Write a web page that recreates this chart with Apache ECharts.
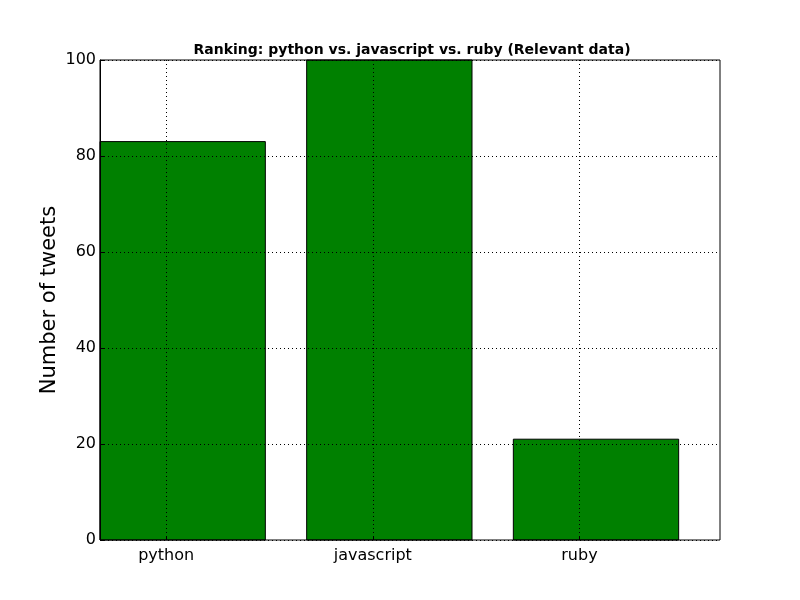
<!DOCTYPE html>
<html>
<head>
<meta charset="utf-8">
<script src="https://cdn.jsdelivr.net/npm/echarts@6/dist/echarts.min.js"></script>
<style>html,body{margin:0;padding:0;background:#fff;}#c{width:800px;height:600px;}</style>
</head>
<body>
<div id="c"></div>
<script>
var categories = ['python', 'javascript', 'ruby'];
var values = [83, 100, 21];
var yTicks = [0, 20, 40, 60, 80, 100];

var BAR_W = 0.8, TICK_OFF = 0.32, XMAX = 3;
var G = {left: 100, right: 80, top: 60, bottom: 60};
var plotW = 800 - G.left - G.right;
var unit = plotW / XMAX;
var font = 'DejaVu Sans';

var chart = echarts.init(document.getElementById('c'), null, {renderer: 'canvas'});
chart.setOption({
  animation: false,
  backgroundColor: '#fff',
  title: {
    text: 'Ranking: python vs. javascript vs. ruby (Relevant data)',
    left: G.left + plotW / 2 - 3, textAlign: 'center', top: 38,
    textStyle: {fontFamily: font, fontSize: 14, fontWeight: 'bold', color: '#000'}
  },
  grid: [
    {left: G.left, right: G.right, top: G.top, bottom: G.bottom, show: true, borderColor: '#000', borderWidth: 1, backgroundColor: 'transparent', z: 10},
    {left: G.left + TICK_OFF * unit, right: 800 - G.left - (TICK_OFF + XMAX - 1) * unit, top: G.top, bottom: G.bottom}
  ],
  xAxis: [
    {type: 'value', gridIndex: 0, min: 0, max: XMAX, show: false},
    {type: 'category', gridIndex: 1, data: categories, boundaryGap: false, z: 5,
      axisLine: {show: false},
      axisTick: {show: true, inside: true, length: 4, lineStyle: {color: '#000'}},
      axisLabel: {fontFamily: font, fontSize: 16, color: '#000', margin: 8},
      splitLine: {show: true, lineStyle: {color: '#000', type: [1, 3], width: 1}}
    }
  ],
  yAxis: [
    {type: 'value', gridIndex: 0, min: 0, max: 100, interval: 20, z: 5,
      name: 'Number of tweets', nameLocation: 'middle', nameGap: 40, nameMoveOverlap: false,
      nameTextStyle: {fontFamily: font, fontSize: 21, color: '#000'},
      axisLine: {show: true, lineStyle: {color: '#000'}},
      axisTick: {show: true, inside: true, length: 4, lineStyle: {color: '#000'}},
      axisLabel: {fontFamily: font, fontSize: 16, color: '#000', margin: 4},
      splitLine: {show: true, lineStyle: {color: '#000', type: [1, 3], width: 1}}
    },
    {type: 'value', gridIndex: 1, min: 0, max: 100, show: false}
  ],
  series: [{
    type: 'custom',
    xAxisIndex: 0, yAxisIndex: 0,
    data: values.map(function (v, i) { return [i, v]; }),
    renderItem: function (params, api) {
      var i = api.value(0), v = api.value(1);
      var p0 = api.coord([i, v]);
      var p1 = api.coord([i + BAR_W, 0]);
      return {
        type: 'rect',
        shape: {x: p0[0], y: p0[1], width: p1[0] - p0[0], height: p1[1] - p0[1]},
        style: {fill: '#008000', stroke: '#000', lineWidth: 1}
      };
    },
    z: 1
  }, {
    type: 'line', xAxisIndex: 1, yAxisIndex: 1, data: [], silent: true
  }]
});
</script>
</body>
</html>
